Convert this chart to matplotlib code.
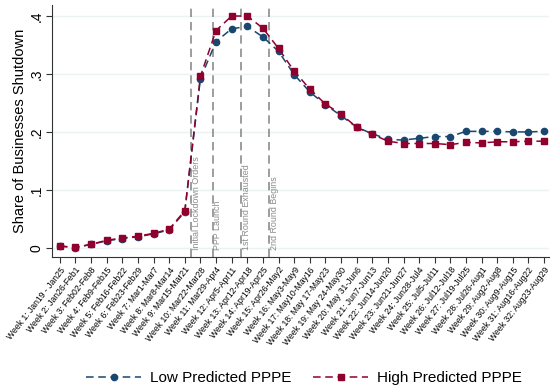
import matplotlib
matplotlib.use("Agg")
import matplotlib.pyplot as plt
import numpy as np

plt.rcParams['font.family'] = ['Liberation Sans', 'DejaVu Sans']

week_labels = [
    "Week 1: Jan19 - Jan25", "Week 2: Jan26-Feb1", "Week 3: Feb02-Feb8",
    "Week 4: Feb9-Feb15", "Week 5: Feb16-Feb22", "Week 6: Feb23-Feb29",
    "Week 7: Mar1-Mar7", "Week 8: Mar8-Mar14", "Week 9: Mar15-Mar21",
    "Week 10: Mar22-Mar28", "Week 11: Mar29-Apr4", "Week 12: Apr5-Apr11",
    "Week 13: Apr12-Apr18", "Week 14: Apr19-Apr25", "Week 15: Apr26-May2",
    "Week 16: May3-May9", "Week 17: May10-May16", "Week 18: May 17-May23",
    "Week 19: May 24-May30", "Week 20: May 31-Jun6", "Week 21: Jun7-Jun13",
    "Week 22: Jun14-Jun20", "Week 23: Jun21-Jun27", "Week 24: Jun28-Jul4",
    "Week 25: Jul5-Jul11", "Week 26: Jul12-Jul18", "Week 27: Jul19-Jul25",
    "Week 28: Jul26-Aug1", "Week 29: Aug2-Aug8", "Week 30: Aug9-Aug15",
    "Week 31: Aug16-Aug22", "Week 32: Aug23-Aug29",
]
weeks = list(range(1, 33))

low_pppe = [0.003, 0.000, 0.006, 0.012, 0.016, 0.019, 0.024, 0.031, 0.062,
            0.292, 0.356, 0.378, 0.382, 0.364, 0.339, 0.299, 0.269, 0.247,
            0.228, 0.208, 0.197, 0.187, 0.186, 0.189, 0.192, 0.192, 0.201,
            0.201, 0.201, 0.200, 0.200, 0.201]
high_pppe = [0.003, 0.001, 0.006, 0.013, 0.017, 0.020, 0.025, 0.032, 0.064,
             0.296, 0.375, 0.400, 0.400, 0.379, 0.344, 0.305, 0.274, 0.248,
             0.231, 0.208, 0.196, 0.184, 0.180, 0.180, 0.180, 0.178, 0.182,
             0.181, 0.183, 0.183, 0.184, 0.184]

event_positions = [9.4, 10.8, 12.6, 14.4]
event_labels = ["Initial Lockdown Orders", "PPP Launch", "1st Round Exhausted", "2nd Round Begins"]

yticks = [0, 0.1, 0.2, 0.3, 0.4]
ytick_labels = ["0", ".1", ".2", ".3", ".4"]

blue = "#1a476f"
red = "#90002d"

fig = plt.figure(figsize=(5.52, 3.86), dpi=100)
ax = fig.add_axes([0.0942, 0.334, 0.900, 0.653])

for y in yticks:
    ax.axhline(y, color="#eaf2f3", lw=1.0, zorder=0)

for xp, lab in zip(event_positions, event_labels):
    ax.axvline(xp, color="#8c8c8c", lw=1.2, ls=(0, (5, 3)), zorder=1)
    ax.text(xp + 0.32, -0.003, lab, rotation=90, ha="center", va="bottom",
            fontsize=6.4, color="#8c8c8c")

ax.plot(weeks, low_pppe, color=blue, ls=(0, (5, 3)), lw=1.1, marker="o",
        markersize=4.5, label="Low Predicted PPPE", zorder=3)
ax.plot(weeks, high_pppe, color=red, ls=(0, (5, 3)), lw=1.1, marker="s",
        markersize=4.5, label="High Predicted PPPE", zorder=4)

ax.set_xlim(0.5, 32.3)
ax.set_ylim(-0.016, 0.419)
ax.set_xticks(weeks)
ax.set_xticklabels(week_labels, rotation=52, ha="right", rotation_mode="anchor",
                   fontsize=6.2)
ax.set_yticks(yticks)
ax.set_yticklabels(ytick_labels, rotation=90, va="center", fontsize=10)
ax.set_ylabel("Share of Businesses Shutdown", fontsize=10.5, labelpad=2)
ax.tick_params(axis="both", length=4, width=0.8, color="#333333", pad=2)
for s in ["top", "right"]:
    ax.spines[s].set_visible(False)
for s in ["left", "bottom"]:
    ax.spines[s].set_color("#333333")
    ax.spines[s].set_linewidth(0.8)

fig.legend(loc="center", bbox_to_anchor=(0.551, 0.021), ncol=2,
           frameon=False, fontsize=11, handlelength=3.6, handletextpad=0.6,
           columnspacing=1.4)

fig.savefig("out.png", dpi=100, facecolor="white")
